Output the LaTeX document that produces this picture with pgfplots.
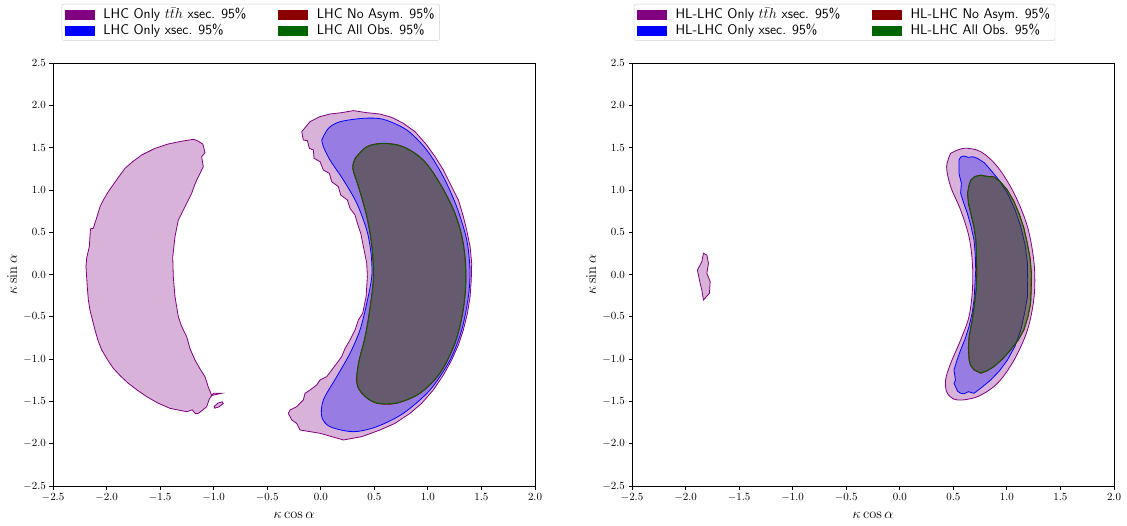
\documentclass[border=0pt]{standalone}
\usepackage{pgfplots}
\pgfplotsset{compat=1.18}
\definecolor{mplpurple}{RGB}{128,0,128}
\definecolor{mplblue}{RGB}{0,0,255}
\definecolor{mpldarkred}{RGB}{139,0,0}
\definecolor{mplgreen}{RGB}{0,100,0}
\pgfplotsset{
  myaxis/.style={
    scale only axis, width=482pt, height=423pt,
    xmin=-2.5, xmax=2, ymin=-2.5, ymax=2.5,
    xtick={-2.5,-2,...,2}, ytick={-2.5,-2,...,2.5},
    xtick pos=left, ytick pos=left,
    tick align=outside, major tick length=3.5pt,
    tick style={black, line width=0.8pt},
    axis line style={line width=0.8pt},
    tick label style={font=\fontsize{11}{13}\selectfont},
    /pgf/number format/.cd, fixed, fixed zerofill, precision=1, /pgfplots/.cd,
    xlabel={$\kappa\cos\alpha$}, ylabel={$\kappa\sin\alpha$},
    every axis x label/.style={at={(axis description cs:0.5,-0.0686)}, anchor=center, font=\fontsize{14}{16}\selectfont},
    every axis y label/.style={at={(axis description cs:-0.085,0.5)}, anchor=center, rotate=90, font=\fontsize{14}{16}\selectfont},
    legend columns=2,
    legend cell align=left,
    legend style={anchor=south west, draw=black!18, rounded corners=2pt,
      font=\sffamily\fontsize{14}{16}\selectfont,
      inner xsep=3pt, inner ysep=2pt,
      /tikz/every even column/.append style={column sep=30pt}},
  },
  pur/.style={draw=mplpurple, fill=mplpurple, fill opacity=0.3, draw opacity=1, line width=0.8pt, forget plot},
  blu/.style={draw=mplblue, fill=mplblue, fill opacity=0.3, draw opacity=1, line width=0.8pt, forget plot},
  red/.style={draw=mpldarkred, fill=mpldarkred, fill opacity=0.3, draw opacity=1, line width=0.8pt, forget plot},
  grn/.style={draw=mplgreen, fill=mplgreen, fill opacity=0.3, draw opacity=1, line width=0.8pt, forget plot},
}
\newcommand{\swatch}[1]{\addlegendimage{legend image code/.code={\fill[#1, sharp corners] (0pt,-4.5pt) rectangle (29pt,4.5pt); \path (36pt,0pt);}}}
\begin{document}
\begin{tikzpicture}
\useasboundingbox (-53pt,-39pt) rectangle (1074pt,486pt);
% ---------------- LHC ----------------
\begin{axis}[myaxis, legend style={at={(0.018,1.053)}}]
\swatch{mplpurple}\addlegendentry{LHC Only $t\bar{t}h$ xsec. 95\%}
\swatch{mpldarkred}\addlegendentry{LHC No Asym. 95\%}
\swatch{mplblue}\addlegendentry{LHC Only xsec. 95\%}
\swatch{mplgreen}\addlegendentry{LHC All Obs. 95\%}
% purple, left crescent
\addplot[pur] coordinates {
(-1.190,1.598) (-1.300,1.575) (-1.423,1.543) (-1.550,1.490) (-1.672,1.413) (-1.760,1.330)
(-1.828,1.255) (-1.900,1.130) (-1.984,0.979) (-2.030,0.880) (-2.061,0.801) (-2.090,0.680) (-2.124,0.546)
(-2.150,0.540) (-2.161,0.329) (-2.185,0.200) (-2.192,0.092) (-2.180,-0.144) (-2.170,-0.300) (-2.155,-0.420) (-2.108,-0.656)
(-2.080,-0.780) (-2.045,-0.892) (-1.990,-1.010) (-1.937,-1.109) (-1.870,-1.200) (-1.797,-1.286) (-1.710,-1.370) (-1.625,-1.444) (-1.520,-1.520) (-1.408,-1.582)
(-1.252,-1.622) (-1.200,-1.600) (-1.170,-1.645) (-1.143,-1.641) (-1.100,-1.600) (-1.065,-1.563)
(-1.040,-1.470) (-1.003,-1.404) (-0.925,-1.404) (-1.018,-1.430) (-1.050,-1.330) (-1.081,-1.208)
(-1.130,-1.110) (-1.174,-1.011) (-1.220,-0.880) (-1.252,-0.735) (-1.300,-0.610) (-1.330,-0.499) (-1.361,-0.262) (-1.377,-0.026)
(-1.382,0.210) (-1.361,0.447) (-1.330,0.644) (-1.268,0.801) (-1.205,0.960) (-1.180,1.050)
(-1.158,1.117) (-1.127,1.196) (-1.097,1.274) (-1.112,1.392) (-1.081,1.440) (-1.100,1.540)
(-1.150,1.580)} -- cycle;
% small purple blob
\addplot[pur] coordinates {(-0.99,-1.58) (-0.95,-1.565) (-0.91,-1.525) (-0.92,-1.505) (-0.96,-1.52) (-0.995,-1.56)} -- cycle;
% purple, right crescent
\addplot[pur] coordinates {
(-0.178,1.688) (-0.100,1.807) (-0.007,1.866) (0.086,1.897) (0.195,1.913) (0.304,1.937) (0.429,1.913)
(0.553,1.897) (0.662,1.858) (0.771,1.787) (0.880,1.688) (0.989,1.531) (1.067,1.393) (1.145,1.235)
(1.222,1.038) (1.285,0.881) (1.331,0.684) (1.362,0.526) (1.394,0.329) (1.409,0.132) (1.405,-0.065)
(1.394,-0.262) (1.369,-0.459) (1.331,-0.656) (1.285,-0.833) (1.222,-1.011) (1.145,-1.188)
(1.051,-1.365) (0.942,-1.523) (0.833,-1.641) (0.693,-1.759) (0.553,-1.838) (0.382,-1.917) (0.211,-1.956)
(-0.007,-1.877) (-0.194,-1.838) (-0.225,-1.759) (-0.271,-1.720) (-0.303,-1.641) (-0.287,-1.602)
(-0.225,-1.562) (-0.163,-1.483) (-0.147,-1.405) (-0.100,-1.365) (-0.038,-1.306) (-0.007,-1.247)
(0.055,-1.208) (0.102,-1.129) (0.149,-1.050) (0.195,-0.971) (0.227,-0.873) (0.273,-0.774)
(0.320,-0.656) (0.351,-0.538) (0.391,-0.459) (0.423,-0.262) (0.435,-0.026) (0.429,0.132)
(0.398,0.329) (0.373,0.487) (0.342,0.605) (0.320,0.703) (0.273,0.782) (0.248,0.881) (0.186,0.940)
(0.164,1.038) (0.102,1.097) (0.080,1.196) (0.024,1.235) (-0.007,1.334) (-0.063,1.373)
(-0.069,1.472) (-0.107,1.491) (-0.125,1.582) (-0.163,1.590)} -- cycle;
% blue
\addplot[blu, smooth, tension=0.5] coordinates {
(0.009,1.590) (0.071,1.728) (0.180,1.806) (0.397,1.846) (0.584,1.834) (0.803,1.708)
(0.989,1.472) (1.144,1.156) (1.269,0.801) (1.363,0.408) (1.393,0.053) (1.378,-0.262)
(1.316,-0.656) (1.207,-1.011) (1.020,-1.365) (0.771,-1.641) (0.522,-1.799) (0.304,-1.858)
(0.086,-1.799) (0.009,-1.681) (0.024,-1.483) (0.149,-1.208) (0.273,-0.931) (0.366,-0.656)
(0.429,-0.340) (0.476,-0.026) (0.469,0.251) (0.429,0.526) (0.336,0.842) (0.211,1.117)
(0.086,1.353) (0.024,1.511) (0.009,1.590)} -- cycle;
% dark red (no asym) and green (all obs)
\addplot[red, smooth, tension=0.55] coordinates {
(0.320,1.374) (0.429,1.511) (0.584,1.551) (0.771,1.511) (0.958,1.353) (1.113,1.078)
(1.254,0.723) (1.331,0.369) (1.356,-0.026) (1.331,-0.420) (1.254,-0.813) (1.113,-1.168)
(0.927,-1.404) (0.709,-1.522) (0.522,-1.522) (0.397,-1.424) (0.336,-1.286) (0.351,-1.050)
(0.413,-0.735) (0.460,-0.381) (0.491,-0.026) (0.476,0.329) (0.429,0.683) (0.351,1.038)
(0.298,1.255) (0.320,1.374)} -- cycle;
\addplot[grn, smooth, tension=0.55] coordinates {
(0.322,1.371) (0.430,1.508) (0.584,1.548) (0.770,1.508) (0.956,1.351) (1.110,1.077)
(1.251,0.722) (1.328,0.369) (1.353,-0.026) (1.328,-0.419) (1.251,-0.811) (1.111,-1.165)
(0.926,-1.400) (0.709,-1.518) (0.523,-1.518) (0.399,-1.421) (0.339,-1.284) (0.354,-1.049)
(0.416,-0.734) (0.463,-0.381) (0.494,-0.026) (0.479,0.329) (0.432,0.682) (0.354,1.037)
(0.301,1.254) (0.322,1.371)} -- cycle;
\end{axis}
% ---------------- HL-LHC ----------------
\begin{axis}[myaxis, at={(579pt,0pt)}, legend style={at={(0.004,1.053)}}]
\swatch{mplpurple}\addlegendentry{HL-LHC Only $t\bar{t}h$ xsec. 95\%}
\swatch{mpldarkred}\addlegendentry{HL-LHC No Asym. 95\%}
\swatch{mplblue}\addlegendentry{HL-LHC Only xsec. 95\%}
\swatch{mplgreen}\addlegendentry{HL-LHC All Obs. 95\%}
\addplot[pur] coordinates {
(-1.833,0.251) (-1.801,0.230) (-1.786,0.132) (-1.801,0.014) (-1.770,-0.085) (-1.777,-0.222)
(-1.833,-0.301) (-1.848,-0.183) (-1.864,-0.104) (-1.889,0.053) (-1.848,0.151)} -- cycle;
\addplot[pur, smooth, tension=0.55] coordinates {
(0.475,1.433) (0.599,1.492) (0.755,1.452) (0.912,1.274) (1.067,0.960) (1.192,0.565)
(1.254,0.132) (1.254,-0.262) (1.192,-0.656) (1.067,-1.011) (0.912,-1.286) (0.725,-1.444)
(0.537,-1.483) (0.444,-1.404) (0.428,-1.247) (0.475,-1.050) (0.568,-0.774) (0.646,-0.499)
(0.678,-0.183) (0.678,0.132) (0.646,0.447) (0.568,0.762) (0.475,1.038) (0.437,1.274) (0.475,1.433)} -- cycle;
\addplot[blu] coordinates {
(0.552,1.353) (0.570,1.390) (0.599,1.401) (0.640,1.385) (0.680,1.392) (0.725,1.374) (0.790,1.320) (0.849,1.235)
(0.930,1.110) (1.005,0.960) (1.075,0.770) (1.130,0.565) (1.170,0.350)
(1.192,0.132) (1.194,-0.070) (1.192,-0.262) (1.165,-0.460) (1.130,-0.656) (1.075,-0.850) (1.005,-1.011) (0.930,-1.140)
(0.849,-1.247) (0.770,-1.330) (0.693,-1.404) (0.640,-1.385) (0.600,-1.410) (0.568,-1.404) (0.540,-1.380) (0.506,-1.286) (0.520,-1.250)
(0.506,-1.129) (0.535,-1.010) (0.568,-0.892) (0.610,-0.760) (0.646,-0.617) (0.675,-0.460) (0.693,-0.301)
(0.709,0.053) (0.705,0.230) (0.693,0.408) (0.665,0.570) (0.631,0.723) (0.595,0.850) (0.568,0.960) (0.575,1.080) (0.552,1.196)} -- cycle;
\addplot[red] coordinates {
(0.662,1.117) (0.700,1.160) (0.755,1.176) (0.820,1.160) (0.880,1.156) (0.945,1.090) (1.005,0.999)
(1.065,0.870) (1.114,0.723) (1.160,0.550) (1.192,0.369) (1.218,0.190)
(1.230,0.014) (1.228,-0.170) (1.223,-0.340) (1.198,-0.500) (1.160,-0.656) (1.105,-0.780) (1.036,-0.892)
(0.960,-1.000) (0.880,-1.090) (0.815,-1.140) (0.755,-1.168)
(0.693,-1.129) (0.660,-1.075) (0.646,-1.011) (0.640,-0.870) (0.646,-0.735) (0.672,-0.560) (0.693,-0.381) (0.712,-0.180)
(0.718,0.014) (0.715,0.210) (0.709,0.408) (0.690,0.570)
(0.662,0.723) (0.640,0.840) (0.631,0.960) (0.646,1.058)} -- cycle;
\addplot[grn] coordinates {
(0.664,1.114) (0.700,1.156) (0.755,1.172) (0.820,1.157) (0.880,1.152) (0.943,1.088) (1.002,0.997)
(1.062,0.869) (1.111,0.722) (1.157,0.550) (1.189,0.369) (1.215,0.190)
(1.227,0.014) (1.225,-0.170) (1.220,-0.339) (1.195,-0.499) (1.157,-0.654) (1.102,-0.778) (1.034,-0.889)
(0.958,-0.997) (0.879,-1.086) (0.815,-1.136) (0.756,-1.164)
(0.696,-1.126) (0.663,-1.073) (0.649,-1.010) (0.643,-0.870) (0.649,-0.735) (0.675,-0.560) (0.696,-0.381) (0.715,-0.180)
(0.721,0.014) (0.718,0.210) (0.712,0.408) (0.693,0.570)
(0.665,0.723) (0.643,0.840) (0.634,0.960) (0.649,1.057)} -- cycle;
\end{axis}
\end{tikzpicture}
\end{document}
